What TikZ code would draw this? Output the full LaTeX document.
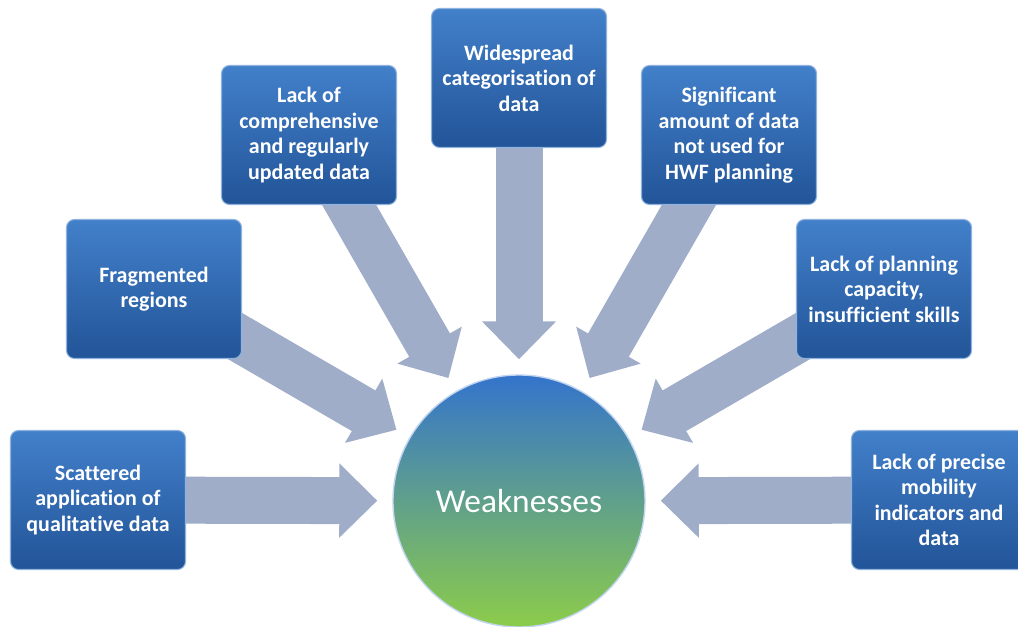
\documentclass[tikz,border=0pt]{standalone}
\usepackage{fontspec}
\setmainfont[Ligatures=NoCommon]{Carlito}
\usetikzlibrary{arrows.meta,backgrounds}

\definecolor{boxtop}{RGB}{66,128,202}
\definecolor{boxbot}{RGB}{34,84,152}
\definecolor{circtop}{RGB}{52,116,204}
\definecolor{circmid}{RGB}{60,136,160}
\definecolor{circbot}{RGB}{140,204,74}
\definecolor{arrowgray}{RGB}{160,173,201}

\tikzset{
  weakbox/.style={rectangle, rounded corners=0.16cm, minimum width=3.5cm,
    minimum height=2.78cm, top color=boxtop, bottom color=boxbot,
    draw=boxtop!60!white, line width=0.6pt, text=white, align=center,
    font=\bfseries\fontsize{12.5}{14.5}\selectfont},
  hub/.style={circle, minimum size=5.04cm, inner sep=0pt, top color=circtop,
    middle color=circmid, bottom color=circbot, draw=white!70!circtop,
    line width=0.8pt, text=white, font=\fontsize{19}{22}\selectfont},
  bigarrow/.style={draw=arrowgray, line width=0.94cm, shorten >=0.3cm,
    -{Triangle[length=0.76cm, width=1.44cm]}}
}

\begin{document}
\begin{tikzpicture}

  \useasboundingbox (0,0) rectangle (20.36,12.54);

  % Centre
  \node[hub] (W) at (10.38,2.52) {Weaknesses};

  % Boxes round the centre
  \node[weakbox] (scattered) at (1.96,2.54) {Scattered\\application of\\qualitative data};
  \node[weakbox] (fragmented) at (3.08,6.76) {Fragmented\\regions};
  \node[weakbox] (comprehensive) at (6.18,9.84) {Lack of\\comprehensive\\and regularly\\updated data};
  \node[weakbox] (categorisation) at (10.38,10.98) {Widespread\\categorisation of\\data};
  \node[weakbox] (notused) at (14.58,9.84) {Significant\\amount of data\\not used for\\HWF planning};
  \node[weakbox] (capacity) at (17.68,6.76) {Lack of planning\\capacity,\\insufficient skills};
  \node[weakbox] (mobility) at (18.78,2.54) {Lack of precise\\mobility\\indicators and\\data};

  % Arrows into the centre
  \begin{scope}[on background layer]
    \foreach \src in {scattered,fragmented,comprehensive,categorisation,notused,capacity,mobility}
      \draw[bigarrow] (\src.center) -- (W);
  \end{scope}

\end{tikzpicture}
\end{document}
